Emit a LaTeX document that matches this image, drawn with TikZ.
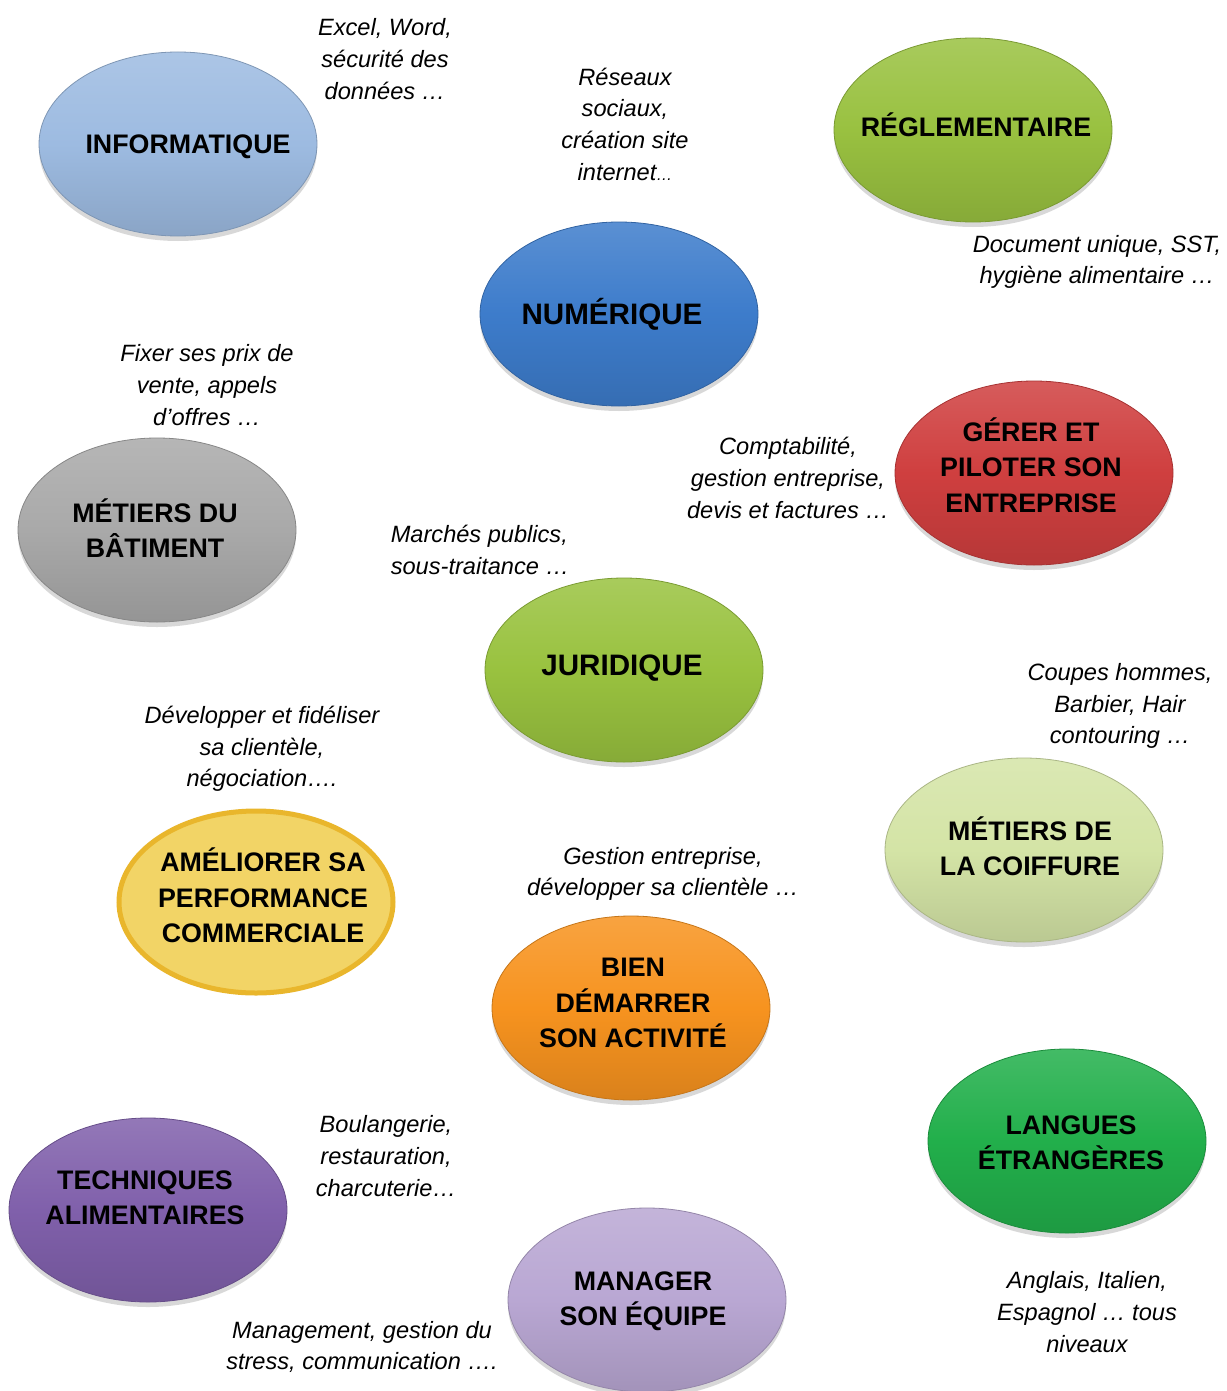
\documentclass[tikz,border=0pt]{standalone}
\usepackage{fontspec}
\setmainfont{Liberation Sans}
\usetikzlibrary{shapes.geometric,shadows}

\definecolor{bleuclair}{HTML}{9DBBE1}
\definecolor{vertregl}{HTML}{99C140}
\definecolor{bleunum}{HTML}{3D7CCB}
\definecolor{rougeges}{HTML}{CF3F3F}
\definecolor{grisbat}{HTML}{A9A9A9}
\definecolor{vertjur}{HTML}{99C23F}
\definecolor{vertpale}{HTML}{D4E4A6}
\definecolor{jaunecom}{HTML}{F2D466}
\definecolor{jaunebord}{HTML}{E9B62C}
\definecolor{orangeact}{HTML}{F7931F}
\definecolor{vertlang}{HTML}{22AF4B}
\definecolor{violetali}{HTML}{8060AB}
\definecolor{lavande}{HTML}{B9A7D3}

\newcommand{\titrefont}{\fontsize{26.8}{35.5}\selectfont\bfseries}
\newcommand{\grandtitrefont}{\fontsize{29.6}{35.5}\selectfont\bfseries}
\newcommand{\legendefont}{\fontsize{23.6}{31.7}\selectfont\itshape}

\tikzset{
  bulle/.style={ellipse, minimum width=278pt, minimum height=184pt, inner sep=0pt,
    top color=#1!85!white, bottom color=#1!88!black, middle color=#1,
    draw=#1!80!black, line width=0.8pt,
    drop shadow={shadow xshift=0pt, shadow yshift=-5pt, opacity=0.3}},
  titre/.style={font=\titrefont, align=center},
  grandtitre/.style={font=\grandtitrefont, align=center},
  legende/.style={font=\legendefont, align=center}
}

\begin{document}
\begin{tikzpicture}[x=1pt, y=-1pt]
        \useasboundingbox[fill=white] (0,0) rectangle (1226,1391);

        % les bulles
        \node[bulle=bleuclair] (info) at (178,144) {};
        \node[titre, xshift=10pt, yshift=-3pt] (info-t) at (info) {INFORMATIQUE};
        \node[bulle=vertregl] (regl) at (973,130) {};
        \node[titre, xshift=3pt, yshift=5pt] (regl-t) at (regl) {RÉGLEMENTAIRE};
        \node[bulle=bleunum] (num) at (619,314) {};
        \node[grandtitre, xshift=-7pt] (num-t) at (num) {NUMÉRIQUE};
        \node[bulle=rougeges] (gerer) at (1034,473) {};
        \node[titre, xshift=-3pt, yshift=8pt] (gerer-t) at (gerer) {GÉRER ET\\PILOTER SON\\ENTREPRISE};
        \node[bulle=grisbat] (bat) at (157,530) {};
        \node[titre, xshift=-2pt, yshift=2pt] (bat-t) at (bat) {MÉTIERS DU\\BÂTIMENT};
        \node[bulle=vertjur] (jur) at (624,670) {};
        \node[grandtitre, xshift=-2pt, yshift=2pt] (jur-t) at (jur) {JURIDIQUE};
        \node[bulle=vertpale] (coif) at (1024,850) {};
        \node[titre, xshift=6pt, yshift=4pt] (coif-t) at (coif) {MÉTIERS DE\\LA COIFFURE};
        \node[ellipse, minimum width=274pt, minimum height=182pt, fill=jaunecom,
              draw=jaunebord, line width=5pt] (amel) at (256,902) {};
        \node[titre, xshift=7pt, yshift=6.5pt] (amel-t) at (amel) {AMÉLIORER SA\\PERFORMANCE\\COMMERCIALE};
        \node[bulle=orangeact] (bien) at (631,1008) {};
        \node[titre, xshift=2pt, yshift=5pt] (bien-t) at (bien) {BIEN\\DÉMARRER\\SON ACTIVITÉ};
        \node[bulle=vertlang] (lang) at (1067,1141) {};
        \node[titre, xshift=4pt, yshift=-2pt] (lang-t) at (lang) {LANGUES\\ÉTRANGÈRES};
        \node[bulle=violetali] (tech) at (148,1210) {};
        \node[titre, xshift=-3pt, yshift=12pt] (tech-t) at (tech) {TECHNIQUES\\ALIMENTAIRES};
        \node[bulle=lavande] (mana) at (647,1300) {};
        \node[titre, xshift=-4pt, yshift=-1.5pt] (mana-t) at (mana) {MANAGER\\SON ÉQUIPE};

        % les commentaires
        \node[legende] (info-l) at (385,59) {Excel, Word,\\sécurité des\\données …};
        \node[legende] (num-l) at (625,124) {Réseaux\\sociaux,\\création site\\internet{\fontsize{16}{16}\selectfont …}};
        \node[legende] (regl-l) at (1097,262) {Document unique, SST,\\hygiène alimentaire …};
        \node[legende] (bat-l) at (207,385) {Fixer ses prix de\\vente, appels\\d’offres …};
        \node[legende] (gerer-l) at (788,478) {Comptabilité,\\gestion entreprise,\\devis et factures …};
        \node[legende, align=left] (jur-l) at (480,550) {Marchés publics,\\sous-traitance …};
        \node[legende] (coif-l) at (1120,706) {Coupes hommes,\\Barbier, Hair\\contouring …};
        \node[legende] (amel-l) at (262,749) {Développer et fidéliser\\sa clientèle,\\négociation….};
        \node[legende] (bien-l) at (663,874) {Gestion entreprise,\\développer sa clientèle …};
        \node[legende] (tech-l) at (386,1156) {Boulangerie,\\restauration,\\charcuterie…};
        \node[legende] (lang-l) at (1087,1312) {Anglais, Italien,\\Espagnol … tous\\niveaux};
        \node[legende] (mana-l) at (362,1347) {Management, gestion du\\stress, communication ….};
\end{tikzpicture}
\end{document}
